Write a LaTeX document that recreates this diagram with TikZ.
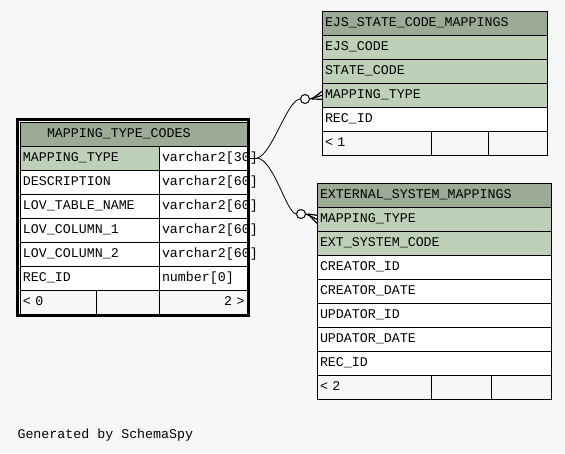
\documentclass[tikz,border=0pt]{standalone}
\usepackage{fontspec}
\setmonofont{Liberation Mono}
\usetikzlibrary{calc}

\definecolor{headgreen}{HTML}{9BAB96}
\definecolor{keygreen}{HTML}{BED1B8}
\definecolor{paper}{HTML}{F7F7F7}
\newcommand\schemafont{\ttfamily\fontsize{13.3}{15}\selectfont\hyphenpenalty=10000\relax}

\begin{document}
\begin{tikzpicture}[
    x=1pt, y=-1pt,
    cell/.style={draw, line width=1pt, fill=white, anchor=north west, outer sep=0pt,
        minimum height=24pt, inner xsep=3pt, inner ysep=0pt, text height=9.5pt, text depth=2.5pt,
        text width=#1, align=left, font=\schemafont},
    head/.style={cell=#1, fill=headgreen},
    key/.style={cell=#1, fill=keygreen},
    foot/.style={cell=#1, fill=paper},
    dot/.style={circle, draw, line width=1pt, fill=white, minimum size=9pt, inner sep=0pt},
    link/.style={draw, line width=0.8pt},
    crow/.style={draw, line width=1.2pt}
]
    \fill[paper] (0,0) rectangle (565,453);

    % MAPPING_TYPE_CODES
    \node[head=173pt, inner xsep=27pt] (mtc-title) at (20,122) {MAPPING\_TYPE\_CODES};
    \node[key=133pt] (mtc-mt) at (mtc-title.south west) {MAPPING\_TYPE};
    \node[cell=133pt] (mtc-desc) at (mtc-mt.south west) {DESCRIPTION};
    \node[cell=133pt] (mtc-lov) at (mtc-desc.south west) {LOV\_TABLE\_NAME};
    \node[cell=133pt] (mtc-col1) at (mtc-lov.south west) {LOV\_COLUMN\_1};
    \node[cell=133pt] (mtc-col2) at (mtc-col1.south west) {LOV\_COLUMN\_2};
    \node[cell=133pt] (mtc-rec) at (mtc-col2.south west) {REC\_ID};
    \node[cell=82pt] (mtc-mt-type) at (mtc-mt.north east) {varchar2[30]};
    \node[cell=82pt] (mtc-desc-type) at (mtc-desc.north east) {varchar2[60]};
    \node[cell=82pt] (mtc-lov-type) at (mtc-lov.north east) {varchar2[60]};
    \node[cell=82pt] (mtc-col1-type) at (mtc-col1.north east) {varchar2[60]};
    \node[cell=82pt] (mtc-col2-type) at (mtc-col2.north east) {varchar2[60]};
    \node[cell=82pt] (mtc-rec-type) at (mtc-rec.north east) {number[0]};
    \node[foot=70pt] (mtc-f1) at (mtc-rec.south west) {< 0};
    \node[foot=57pt] (mtc-f2) at (mtc-f1.north east) {};
    \node[foot=83pt, align=right, inner xsep=2.5pt] (mtc-f3) at (mtc-f2.north east) {2 >};
    \draw[line width=3pt] ($(mtc-title.north west)+(-2.5,-2.5)$) rectangle ($(mtc-f3.south east)+(1,1)$);

    % EJS_STATE_CODE_MAPPINGS
    \node[head=219pt] (ejs-title) at (322,11.3) {EJS\_STATE\_CODE\_MAPPINGS};
    \node[key=219pt] (ejs-code) at (ejs-title.south west) {EJS\_CODE};
    \node[key=219pt] (ejs-state) at (ejs-code.south west) {STATE\_CODE};
    \node[key=219pt] (ejs-mt) at (ejs-state.south west) {MAPPING\_TYPE};
    \node[cell=219pt] (ejs-rec) at (ejs-mt.south west) {REC\_ID};
    \node[foot=103pt] (ejs-f1) at (ejs-rec.south west) {< 1};
    \node[foot=51pt] (ejs-f2) at (ejs-f1.north east) {};
    \node[foot=53pt] (ejs-f3) at (ejs-f2.north east) {};

    % EXTERNAL_SYSTEM_MAPPINGS
    \node[head=228pt] (ext-title) at (317,183.3) {EXTERNAL\_SYSTEM\_MAPPINGS};
    \node[key=228pt] (ext-mt) at (ext-title.south west) {MAPPING\_TYPE};
    \node[key=228pt] (ext-sys) at (ext-mt.south west) {EXT\_SYSTEM\_CODE};
    \node[cell=228pt] (ext-cid) at (ext-sys.south west) {CREATOR\_ID};
    \node[cell=228pt] (ext-cdate) at (ext-cid.south west) {CREATOR\_DATE};
    \node[cell=228pt] (ext-uid) at (ext-cdate.south west) {UPDATOR\_ID};
    \node[cell=228pt] (ext-udate) at (ext-uid.south west) {UPDATOR\_DATE};
    \node[cell=228pt] (ext-rec) at (ext-udate.south west) {REC\_ID};
    \node[foot=108pt] (ext-f1) at (ext-rec.south west) {< 2};
    \node[foot=54pt] (ext-f2) at (ext-f1.north east) {};
    \node[foot=54pt] (ext-f3) at (ext-f2.north east) {};

    % Relationships
    \coordinate (mtc-out) at (257,158);
    \node[dot] (ejs-dot) at (305,99) {};
    \node[dot] (ext-dot) at (301,214) {};
    \draw[link] (mtc-mt-type.east) -- (mtc-out);
    \draw[link] (mtc-out) .. controls (272,155) and (287,100) .. (ejs-dot.west);
    \draw[link] (mtc-out) .. controls (274,160) and (286,212) .. (ext-dot.west);
    \draw[crow] (ejs-dot.east) -- (ejs-mt.west);
    \draw[crow] ($(ejs-dot.east)+(2,0)$) -- ($(ejs-mt.west)+(0,-4)$);
    \draw[crow] ($(ejs-dot.east)+(2,0)$) -- ($(ejs-mt.west)+(0,4)$);
    \draw[crow] (ext-dot.east) -- (ext-mt.west);
    \draw[crow] ($(ext-dot.east)+(2,0)$) -- ($(ext-mt.west)+(0,-4)$);
    \draw[crow] ($(ext-dot.east)+(2,0)$) -- ($(ext-mt.west)+(0,4)$);

    \node[font=\schemafont, anchor=west] (credit) at (14,435) {Generated by SchemaSpy};
\end{tikzpicture}
\end{document}
